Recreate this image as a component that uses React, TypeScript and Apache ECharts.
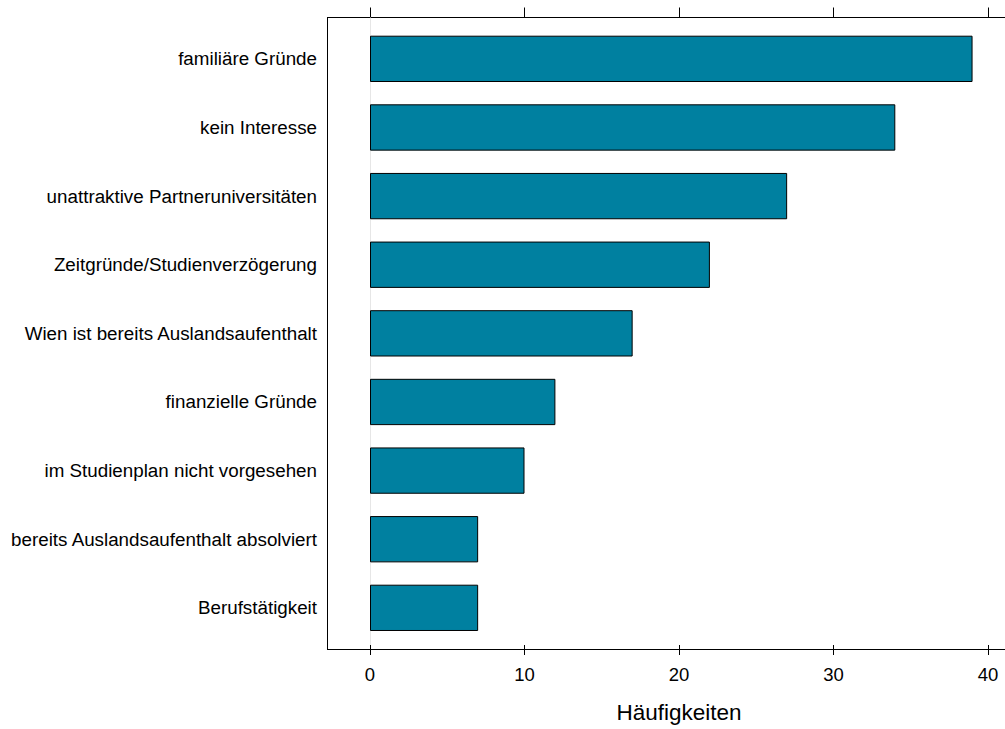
import React, { useEffect, useRef } from "react";
import * as echarts from "echarts";

const categories = [
  "familiäre Gründe",
  "kein Interesse",
  "unattraktive Partneruniversitäten",
  "Zeitgründe/Studienverzögerung",
  "Wien ist bereits Auslandsaufenthalt",
  "finanzielle Gründe",
  "im Studienplan nicht vorgesehen",
  "bereits Auslandsaufenthalt absolviert",
  "Berufstätigkeit",
];
const counts = [39, 34, 27, 22, 17, 12, 10, 7, 7];
const xMin = 0;
const xMax = 40;
const xStep = 10;
const axisTitle = "Häufigkeiten";

const FONT = "Liberation Sans, Arial, Helvetica, sans-serif";

export default function App() {
  const ref = useRef<HTMLDivElement>(null);
  useEffect(() => {
    if (!ref.current) return;
    const chart = echarts.init(ref.current, null, { renderer: "svg" });
    const gridBottom = 79.5;
    const gridTop = 17.5;
    const frameLine = { show: true, lineStyle: { color: "#000", width: 1 } };
    chart.setOption({
      animation: false,
      backgroundColor: "#ffffff",
      textStyle: { fontFamily: FONT },
      grid: [
        // 0: tick scale grid (0..40)
        { left: 370, right: 17, top: gridTop, bottom: gridBottom, show: false },
        // 1: frame (open on the right, cut by the page edge)
        { left: 327.5, right: 0, top: gridTop, bottom: gridBottom, show: false },
        // 2: bars
        { left: 370, right: 17, top: 24.54, bottom: 86.84, show: false },
      ],
      xAxis: [
        {
          gridIndex: 0,
          type: "value",
          position: "bottom",
          min: xMin,
          max: xMax,
          interval: xStep,
          axisLine: { show: false },
          axisTick: { show: true, length: 10, lineStyle: { color: "#000", width: 1 } },
          axisLabel: { show: true, margin: 20, fontSize: 18.5, color: "#000", fontFamily: FONT },
          splitLine: { show: false },
          name: axisTitle,
          nameLocation: "middle",
          nameGap: 56,
          nameTextStyle: { fontSize: 22.5, color: "#000", fontFamily: FONT },
        },
        {
          gridIndex: 0,
          type: "value",
          position: "top",
          min: xMin,
          max: xMax,
          interval: xStep,
          axisLine: { show: false },
          axisTick: { show: true, length: 10, lineStyle: { color: "#000", width: 1 } },
          axisLabel: { show: false },
          splitLine: { show: false },
        },
        {
          gridIndex: 1,
          type: "value",
          position: "bottom",
          min: 0,
          max: 1,
          axisLine: frameLine,
          axisTick: { show: false },
          axisLabel: { show: false },
          splitLine: { show: false },
        },
        {
          gridIndex: 1,
          type: "value",
          position: "top",
          min: 0,
          max: 1,
          axisLine: frameLine,
          axisTick: { show: false },
          axisLabel: { show: false },
          splitLine: { show: false },
        },
        {
          gridIndex: 2,
          type: "value",
          min: xMin,
          max: xMax,
          show: false,
        },
      ],
      yAxis: [
        { gridIndex: 0, type: "value", min: 0, max: 1, show: false },
        {
          gridIndex: 1,
          type: "value",
          position: "left",
          min: 0,
          max: 1,
          axisLine: frameLine,
          axisTick: { show: false },
          axisLabel: { show: false },
          splitLine: { show: false },
        },
        {
          gridIndex: 2,
          type: "category",
          inverse: true,
          data: categories,
          axisLine: { show: false },
          axisTick: { show: false },
          splitLine: { show: false },
          axisLabel: { margin: 53, fontSize: 18.8, color: "#000", fontFamily: FONT },
        },
      ],
      series: [
        {
          type: "line",
          xAxisIndex: 0,
          yAxisIndex: 0,
          data: [],
          silent: true,
          markLine: {
            silent: true,
            symbol: "none",
            label: { show: false },
            lineStyle: { color: "#e6e6e6", type: "solid", width: 1 },
            data: [{ xAxis: 0 }],
          },
        },
        {
          type: "line",
          xAxisIndex: 2,
          yAxisIndex: 1,
          data: [],
          silent: true,
        },
        {
          type: "bar",
          xAxisIndex: 4,
          yAxisIndex: 2,
          data: counts,
          barWidth: 46.3,
          itemStyle: { color: "#0080A0", borderColor: "#000", borderWidth: 1 },
          z: 5,
        },
      ],
    });
    return () => chart.dispose();
  }, []);
  return (
    <div
      ref={ref}
      style={{ position: "fixed", left: 0, top: 0, width: 1005, height: 729 }}
    />
  );
}
